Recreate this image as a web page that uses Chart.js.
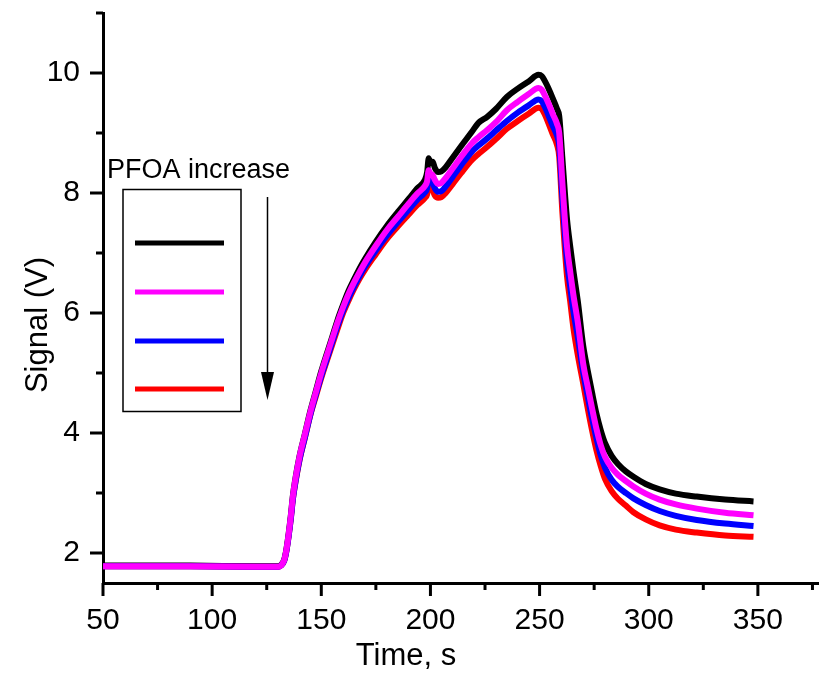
<!DOCTYPE html>
<html>
<head>
    <meta charset="utf-8" />
    <title>PFOA signal</title>
    <script src="https://cdn.jsdelivr.net/npm/chart.js"></script>
    <style>
        body {
            margin: 0;
            background-color: #ffffff;
        }
        #signalChart {
            display: block;
        }
    </style>
</head>
<body>
    <canvas id="signalChart" width="819" height="679"></canvas>
    <script>
        // time axis (s), shared by all four curves
        const timeS = [
            50, 90, 120, 130, 131.5, 133, 134, 135, 136, 137, 138, 140, 142.5, 145, 147.5, 150, 152.5, 155, 157.5, 160, 162.5, 165, 167.5, 170, 175, 180, 185, 190, 194, 197.5,
            198.5, 199.2, 200, 201, 202, 203.5, 205, 207, 210, 214, 219, 222, 226, 230, 235, 240, 245, 249.5,
            251, 252.5, 254, 256, 258, 259, 260.4, 261.5, 262.6, 264, 265.5, 267.5,
            270, 272, 274, 276, 278, 280, 283, 286, 289.5, 293, 298.6, 305, 312.4, 322, 335, 348
        ];

        // signal (V), lowest PFOA first
        const blackSignal = [
            1.79, 1.79, 1.78, 1.78, 1.80, 1.89, 2.06, 2.31, 2.61, 2.96, 3.21, 3.61, 3.99, 4.37, 4.70, 5.03, 5.32, 5.60, 5.89, 6.14, 6.37, 6.56, 6.74, 6.90, 7.19, 7.45, 7.68, 7.90, 8.08, 8.22,
            8.35, 8.58, 8.50, 8.52, 8.42, 8.35, 8.36, 8.43, 8.58, 8.78, 9.02, 9.17, 9.27, 9.40, 9.60, 9.74, 9.86, 9.97,
            9.95, 9.86, 9.75, 9.58, 9.40, 9.28, 8.60, 8.05, 7.55, 7.12, 6.70, 6.20,
            5.45, 5.05, 4.68, 4.33, 4.05, 3.83, 3.62, 3.48, 3.36, 3.27, 3.15, 3.06, 2.99, 2.94, 2.89, 2.86
        ];
        const magentaSignal = [
            1.78, 1.78, 1.77, 1.77, 1.79, 1.88, 2.05, 2.30, 2.60, 2.95, 3.20, 3.60, 3.98, 4.35, 4.68, 5.00, 5.29, 5.57, 5.85, 6.10, 6.32, 6.51, 6.68, 6.84, 7.12, 7.38, 7.60, 7.82, 7.99, 8.12,
            8.20, 8.38, 8.32, 8.30, 8.22, 8.15, 8.17, 8.25, 8.40, 8.60, 8.83, 8.93, 9.05, 9.18, 9.38, 9.52, 9.65, 9.75,
            9.72, 9.62, 9.50, 9.32, 9.15, 9.00, 8.20, 7.60, 7.10, 6.70, 6.30, 5.85,
            5.15, 4.78, 4.42, 4.08, 3.80, 3.60, 3.42, 3.30, 3.20, 3.11, 2.99, 2.89, 2.81, 2.74, 2.67, 2.63
        ];
        const blueSignal = [
            1.78, 1.78, 1.77, 1.77, 1.79, 1.87, 2.03, 2.27, 2.56, 2.90, 3.15, 3.55, 3.93, 4.31, 4.64, 4.95, 5.23, 5.51, 5.79, 6.04, 6.25, 6.44, 6.61, 6.77, 7.04, 7.29, 7.51, 7.72, 7.89, 8.01,
            8.08, 8.28, 8.20, 8.17, 8.08, 8.02, 8.03, 8.11, 8.26, 8.46, 8.69, 8.79, 8.91, 9.04, 9.20, 9.34, 9.46, 9.56,
            9.53, 9.43, 9.30, 9.12, 8.95, 8.78, 7.95, 7.35, 6.85, 6.45, 6.03, 5.60,
            5.00, 4.62, 4.25, 3.92, 3.63, 3.42, 3.22, 3.10, 3.00, 2.91, 2.80, 2.70, 2.62, 2.55, 2.49, 2.45
        ];
        const redSignal = [
            1.78, 1.78, 1.77, 1.77, 1.79, 1.87, 2.03, 2.27, 2.56, 2.90, 3.14, 3.54, 3.92, 4.30, 4.61, 4.92, 5.20, 5.47, 5.74, 6.00, 6.21, 6.40, 6.57, 6.72, 6.98, 7.23, 7.44, 7.64, 7.80, 7.92,
            7.98, 8.15, 8.08, 8.05, 7.96, 7.92, 7.93, 8.00, 8.14, 8.33, 8.55, 8.65, 8.77, 8.90, 9.07, 9.20, 9.32, 9.42,
            9.40, 9.30, 9.17, 8.98, 8.80, 8.60, 7.70, 7.10, 6.60, 6.20, 5.75, 5.30,
            4.82, 4.42, 4.05, 3.72, 3.45, 3.23, 3.03, 2.90, 2.79, 2.68, 2.56, 2.46, 2.39, 2.34, 2.29, 2.27
        ];

        // tick labels and minor tick positions
        const xTicks = [50, 100, 150, 200, 250, 300, 350];
        const xMinorTicks = [75, 125, 175, 225, 275, 325, 375];
        const yTicks = [2, 4, 6, 8, 10];
        const yMinorTicks = [3, 5, 7, 9, 11];

        const FONT = 'Arial, "Liberation Sans", sans-serif';

        function toPoints(values) {
            return timeS.map((t, i) => ({ x: t, y: values[i] }));
        }

        // outward major/minor tick marks, axis titles, and the "PFOA increase" key
        const decorations = {
            id: 'decorations',
            afterDraw(chart) {
                const { ctx, chartArea } = chart;
                const x = chart.scales.x;
                const y = chart.scales.y;
                ctx.save();
                ctx.strokeStyle = '#000';
                ctx.lineWidth = 3;
                ctx.lineCap = 'butt';
                const drawX = (v, len) => {
                    const px = x.getPixelForValue(v);
                    ctx.beginPath();
                    ctx.moveTo(px, chartArea.bottom);
                    ctx.lineTo(px, chartArea.bottom + len);
                    ctx.stroke();
                };
                const drawY = (v, len) => {
                    const py = y.getPixelForValue(v);
                    ctx.beginPath();
                    ctx.moveTo(chartArea.left, py);
                    ctx.lineTo(chartArea.left - len, py);
                    ctx.stroke();
                };
                xTicks.forEach(v => drawX(v, 13));
                xMinorTicks.forEach(v => drawX(v, 7));
                yTicks.forEach(v => drawY(v, 13));
                yMinorTicks.forEach(v => drawY(v, 7));

                // axis titles
                ctx.fillStyle = '#000';
                ctx.font = '31px ' + FONT;
                ctx.textAlign = 'center';
                ctx.textBaseline = 'middle';
                ctx.fillText('Time, s', 406, 656);
                ctx.save();
                ctx.translate(38, 325);
                ctx.rotate(-Math.PI / 2);
                ctx.fillText('Signal (V)', 0, 0);
                ctx.restore();

                // key box
                ctx.font = '27px ' + FONT;
                ctx.textAlign = 'left';
                ctx.textBaseline = 'alphabetic';
                ctx.fillText('PFOA increase', 107, 178);
                ctx.lineWidth = 1.5;
                ctx.strokeRect(123, 189.5, 118, 222);
                const keyColors = ['#000000', '#ff00ff', '#0000ff', '#ff0000'];
                const keyRows = [243, 292, 341, 389];
                keyColors.forEach((c, i) => {
                    ctx.strokeStyle = c;
                    ctx.lineWidth = 5;
                    ctx.beginPath();
                    ctx.moveTo(135, keyRows[i]);
                    ctx.lineTo(224, keyRows[i]);
                    ctx.stroke();
                });

                // arrow
                ctx.strokeStyle = '#000';
                ctx.lineWidth = 1.5;
                ctx.beginPath();
                ctx.moveTo(267.5, 197);
                ctx.lineTo(267.5, 375);
                ctx.stroke();
                ctx.beginPath();
                ctx.moveTo(261, 372);
                ctx.lineTo(274, 372);
                ctx.lineTo(267.5, 400);
                ctx.closePath();
                ctx.fill();
                ctx.restore();
            }
        };

        const series = [
            { data: magentaSignal, color: '#ff00ff', order: 0 },
            { data: blueSignal, color: '#0000ff', order: 1 },
            { data: redSignal, color: '#ff0000', order: 2 },
            { data: blackSignal, color: '#000000', order: 3 }
        ];

        new Chart(document.getElementById('signalChart'), {
            type: 'line',
            data: {
                datasets: series.map(s => ({
                    data: toPoints(s.data),
                    borderColor: s.color,
                    backgroundColor: s.color,
                    borderWidth: 6,
                    pointRadius: 0,
                    cubicInterpolationMode: 'monotone',
                    order: s.order
                }))
            },
            options: {
                responsive: false,
                animation: false,
                devicePixelRatio: 1,
                layout: { padding: { top: 13, right: 0, left: 0, bottom: 0 } },
                plugins: {
                    legend: { display: false },
                    tooltip: { enabled: false }
                },
                scales: {
                    x: {
                        type: 'linear',
                        min: 50,
                        max: 378,
                        afterBuildTicks: s => { s.ticks = xTicks.map(v => ({ value: v })); },
                        afterFit: s => { s.height = 96; s.paddingLeft = 0; s.paddingRight = 0; },
                        grid: { display: true, color: 'transparent', drawTicks: true, tickLength: 13, tickColor: 'transparent' },
                        border: { display: true, color: '#000', width: 3 },
                        ticks: {
                            color: '#000',
                            padding: 7,
                            maxRotation: 0,
                            font: { family: FONT, size: 30 }
                        }
                    },
                    y: {
                        type: 'linear',
                        min: 1.5,
                        max: 11,
                        afterBuildTicks: s => { s.ticks = yTicks.map(v => ({ value: v })); },
                        afterFit: s => { s.width = 103; s.paddingTop = 0; s.paddingBottom = 0; },
                        grid: { display: true, color: 'transparent', drawTicks: true, tickLength: 13, tickColor: 'transparent' },
                        border: { display: true, color: '#000', width: 3 },
                        ticks: {
                            color: '#000',
                            padding: 10,
                            font: { family: FONT, size: 30 }
                        }
                    }
                }
            },
            plugins: [decorations]
        });
    </script>
</body>
</html>
